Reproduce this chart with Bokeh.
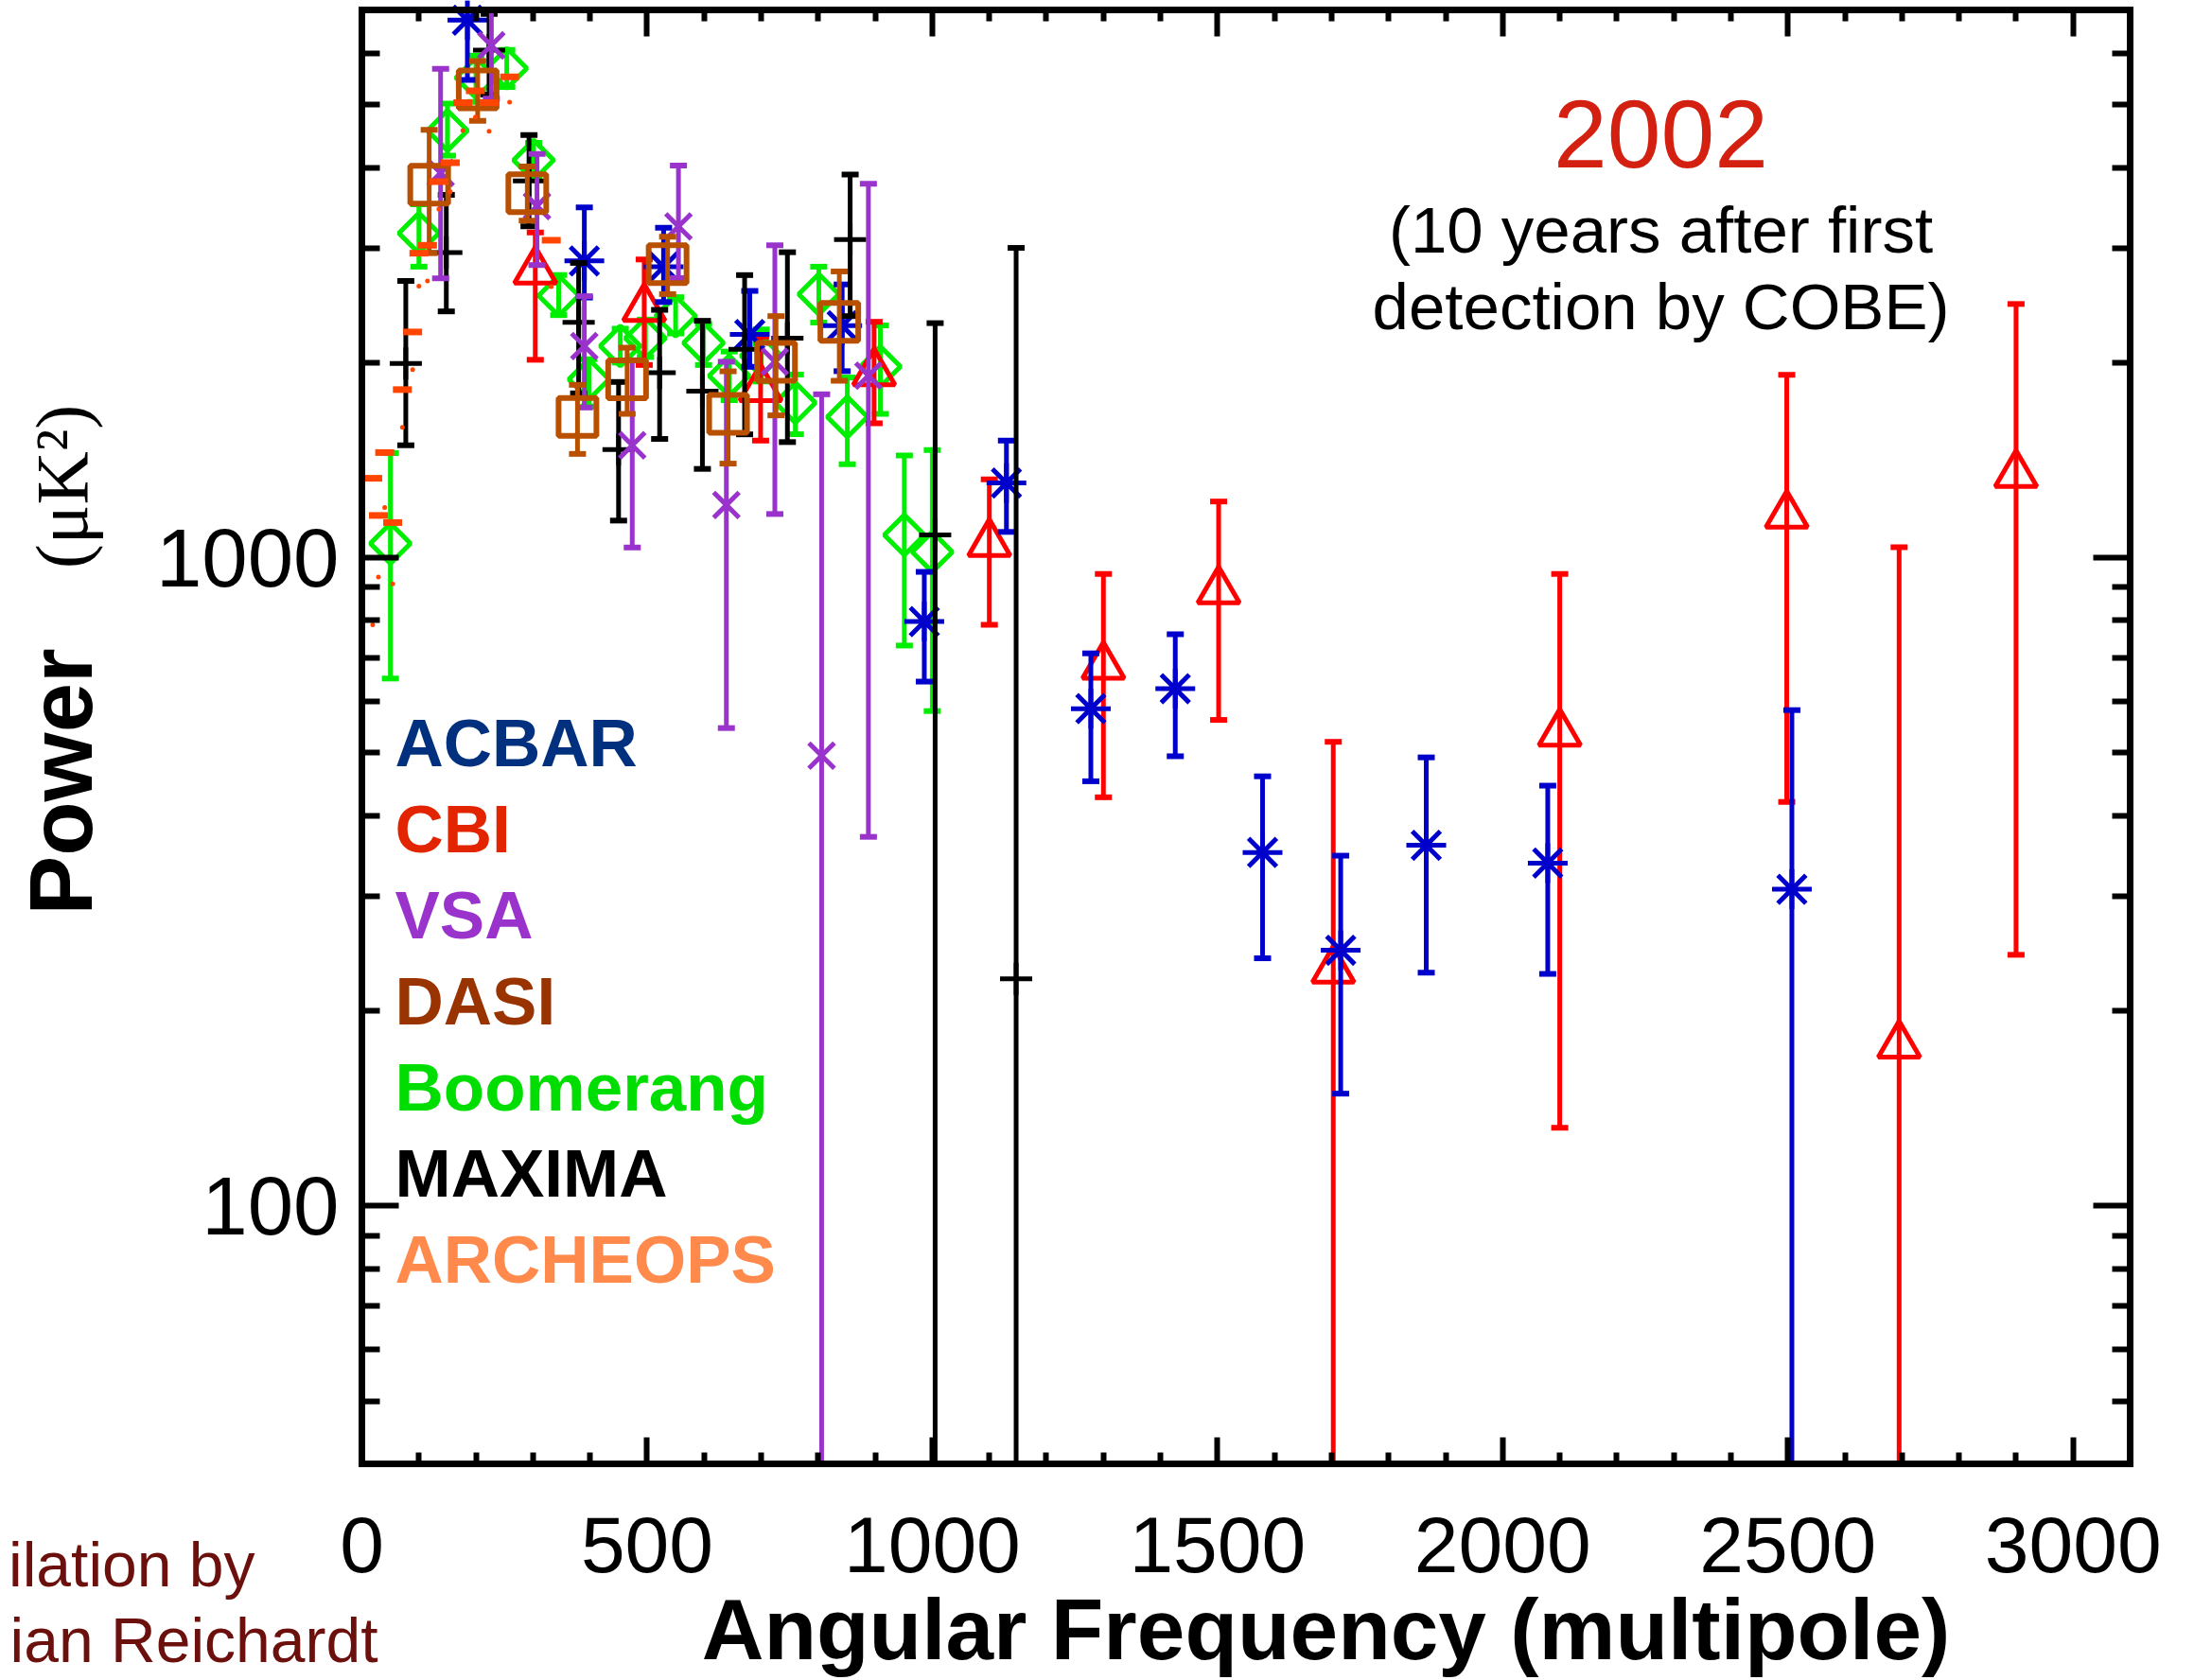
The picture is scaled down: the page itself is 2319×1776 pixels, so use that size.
import numpy as np
from bokeh.plotting import figure
from bokeh.models import Range1d, LinearAxis, LogAxis, FixedTicker, Label, CustomJSTickFormatter
from bokeh.embed import file_html
from bokeh.resources import INLINE

# ---------------------------------------------------------------------------
# CMB angular power spectrum measurements, 2002 compilation
# multipole ell, band power (uK^2), upper / lower error bar ends
# ---------------------------------------------------------------------------
acbar_ell = [185, 390, 529, 680, 842, 986, 1130, 1278, 1426, 1579, 1716, 1866, 2079, 2507]
acbar_pow = [6750, 2870, 2810, 2210, 2280, 797, 1304, 585, 628, 351, 248, 360, 338, 308]
acbar_hi = [7500, 3470, 3230, 2580, 2640, 951, 1516, 712, 762, 460, 347, 492, 445, 582]
acbar_lo = [5460, 2520, 2480, 1970, 1940, 644, 1096, 452, 494, 241, 149, 229, 228, 20]

cbi_ell = [304, 495, 699, 898, 1100, 1300, 1502, 1703, 1900, 2100, 2297, 2498, 2695, 2900]
cbi_pow = [2768, 2425, 1823, 1929, 1052, 680, 889, 231, 20, 536, 20, 1163, 177, 1344]
cbi_hi = [3174, 2885, 2193, 2312, 1321, 944, 1221, 520, 35, 944, 35, 1915, 1038, 2463]
cbi_lo = [2020, 1983, 1516, 1612, 788, 427, 562, 20, 5, 132, 5, 420, 20, 244]

vsa_ell = [138, 227, 307, 390, 474, 555, 639, 724, 806, 888]
vsa_pow = [3923, 6172, 3488, 2121, 1491, 3244, 1206, 2006, 495, 1909]
vsa_hi = [5677, 7200, 4197, 2532, 2017, 4027, 2006, 3034, 1787, 3775]
vsa_lo = [2698, 5110, 2828, 1705, 1037, 2700, 546, 1168, 20, 371]

dasi_ell = [118, 203, 290, 378, 465, 536, 642, 726, 837]
dasi_pow = [3762, 5280, 3650, 1649, 1885, 2837, 1667, 2006, 2312]
dasi_hi = [4574, 5839, 4013, 1848, 2109, 3128, 1939, 2359, 2765]
dasi_lo = [2950, 4719, 3311, 1446, 1667, 2551, 1397, 1658, 1875]

boom_ell = [50, 100, 150, 200, 254, 301, 345, 398, 453, 497, 550, 599, 644, 700,
            760, 801, 851, 909, 951, 1000]
boom_pow = [1052, 3168, 4562, 5500, 5690, 4105, 2537, 1885, 2121, 2181, 2359, 2145, 1909, 2050,
            1734, 2551, 1649, 1972, 1084, 1021]
boom_hi = [1450, 3508, 5021, 5950, 6073, 4365, 2730, 2024, 2256, 2330, 2523, 2294, 2080, 2250,
           1917, 2812, 1897, 2282, 1438, 1466]
boom_lo = [651, 2812, 4173, 5050, 5325, 3850, 2367, 1711, 2000, 2040, 2218, 1983, 1750, 1870,
           1551, 2306, 1394, 1667, 732, 580]

maxima_ell = [77, 148, 223, 293, 380, 450, 522, 597, 671, 746, 856, 1005, 1147]
maxima_pow = [1994, 2957, 6070, 3815, 2307, 1469, 1929, 1807, 2097, 2181, 3096, 1084, 224]
maxima_hi = [2673, 3630, 6900, 4487, 2850, 1867, 2412, 2320, 2729, 2960, 3902, 2301, 3006]
maxima_lo = [1491, 2399, 5180, 3245, 1793, 1141, 1525, 1371, 1550, 1508, 2359, 20, 20]

archeops_ell = [19, 29, 40, 54, 71, 89, 100, 115, 135, 155, 177, 199, 223, 259, 332]
archeops_pow = [1326, 1162, 1453, 1133, 1817, 2230, 2950, 3034, 3804, 4068, 5038, 5250, 5038,
                5521, 3089]
archeops_low = [788, 934, 1195, 911, 1589, 1951, 2623, 2674, 3450, 3669, 4562, 4786, 4549,
                5043, 2620]

x_ticks = [0, 500, 1000, 1500, 2000, 2500, 3000]
y_ticks = [100, 1000]

X_MIN, X_MAX = 0, 3100
Y_MIN, Y_MAX = 40, 7000

legend_names = ["ACBAR", "CBI", "VSA", "DASI", "Boomerang", "MAXIMA", "ARCHEOPS"]
legend_colors = ["#00307E", "#E32400", "#9933CC", "#993300", "#00DD00", "#000000", "#FF8A4C"]

SANS = "Liberation Sans"
W, H = 2319, 1776
# pixel box of the axes inside the canvas (left, right, top, bottom)
BOX_L, BOX_R, BOX_T, BOX_B = 382, 2251, 10, 1547

# the drawing frame fills the whole canvas; the axes are pinned to the box edges
ux = (X_MAX - X_MIN) / (BOX_R - BOX_L)
dec = (np.log10(Y_MAX) - np.log10(Y_MIN)) / (BOX_B - BOX_T)
x_range = Range1d(X_MIN - BOX_L * ux, X_MAX + (W - BOX_R) * ux)
y_range = Range1d(10 ** (np.log10(Y_MIN) - (H - BOX_B) * dec), 10 ** (np.log10(Y_MAX) + BOX_T * dec))

p = figure(width=W, height=H, y_axis_type="log", x_range=x_range, y_range=y_range,
           output_backend="svg", toolbar_location=None,
           min_border_left=0, min_border_right=0, min_border_top=0, min_border_bottom=0)
p.title.visible = False
p.grid.visible = False
p.outline_line_color = None
p.background_fill_color = "white"
p.border_fill_color = "white"

minor_x = [v for v in range(100, 3100, 100) if v % 500]
minor_y = [k * 10 ** d for d in (1, 2, 3) for k in range(2, 10) if Y_MIN < k * 10 ** d < Y_MAX]

blank = CustomJSTickFormatter(code="return ''")


def style_axis(ax, tick_in, minor_in, label_size=None):
    ax.axis_line_width = 7
    ax.axis_line_color = "black"
    ax.axis_line_cap = "square"
    ax.major_tick_in = tick_in
    ax.major_tick_out = 0
    ax.minor_tick_in = minor_in
    ax.minor_tick_out = 0
    ax.major_tick_line_width = 6
    ax.minor_tick_line_width = 6
    ax.major_tick_line_color = "black"
    ax.minor_tick_line_color = "black"
    if label_size:
        ax.major_label_text_font = SANS
        ax.major_label_text_font_size = label_size
        ax.major_label_text_color = "black"
    else:
        ax.formatter = blank
        ax.major_label_standoff = 0


xt = FixedTicker(ticks=x_ticks, minor_ticks=minor_x)
yt = FixedTicker(ticks=y_ticks, minor_ticks=minor_y)

bx = p.xaxis[0]
bx.ticker = xt
bx.fixed_location = Y_MIN
bx.bounds = (X_MIN, X_MAX)
style_axis(bx, 28, 12, "84px")
bx.major_label_standoff = 56

ly = p.yaxis[0]
ly.ticker = yt
ly.fixed_location = X_MIN
ly.bounds = (Y_MIN, Y_MAX)
style_axis(ly, 39, 19, "87px")
ly.major_label_overrides = {t: str(t) for t in y_ticks}
ly.major_label_standoff = 24

top_ax = LinearAxis(ticker=xt, fixed_location=Y_MAX, bounds=(X_MIN, X_MAX))
style_axis(top_ax, 28, 12)
p.add_layout(top_ax, "above")
right_ax = LogAxis(ticker=yt, fixed_location=X_MAX, bounds=(Y_MIN, Y_MAX))
style_axis(right_ax, 39, 19)
p.add_layout(right_ax, "right")


def errorbars(ell, lo, hi, color, lw=5, cap=18):
    ell = np.asarray(ell, float)
    lo_c = np.clip(np.asarray(lo, float), Y_MIN, Y_MAX)
    hi_c = np.clip(np.asarray(hi, float), Y_MIN, Y_MAX)
    p.segment(x0=ell, y0=lo_c, x1=ell, y1=hi_c, line_color=color, line_width=lw)
    p.scatter(x=np.concatenate([ell, ell]), y=np.concatenate([lo_c, hi_c]), marker="dash",
              size=cap, line_color=color, line_width=lw + 1)


def points(ell, pw, **kw):
    ell = np.asarray(ell, float)
    pw = np.asarray(pw, float)
    keep = (pw >= Y_MIN) & (pw <= Y_MAX)
    p.scatter(ell[keep], pw[keep], **kw)


# Boomerang
errorbars(boom_ell, boom_lo, boom_hi, "#00EE00")
points(boom_ell, boom_pow, marker="square", angle=np.pi / 4, size=30,
       fill_color=None, line_color="#00EE00", line_width=5)
# CBI
errorbars(cbi_ell, cbi_lo, cbi_hi, "#FF0000")
points(cbi_ell, cbi_pow, marker="triangle", size=44,
       fill_color=None, line_color="#FF0000", line_width=5)
# ACBAR
errorbars(acbar_ell, acbar_lo, acbar_hi, "#0000CC")
points(acbar_ell, acbar_pow, marker="asterisk", size=42,
       line_color="#0000CC", line_width=5)
# MAXIMA
errorbars(maxima_ell, maxima_lo, maxima_hi, "#000000")
points(maxima_ell, maxima_pow, marker="cross", size=34,
       line_color="#000000", line_width=5)
# VSA
errorbars(vsa_ell, vsa_lo, vsa_hi, "#9933CC")
points(vsa_ell, vsa_pow, marker="x", size=38,
       line_color="#9933CC", line_width=5)
# DASI
errorbars(dasi_ell, dasi_lo, dasi_hi, "#B85000")
points(dasi_ell, dasi_pow, marker="square", size=40,
       fill_color=None, line_color="#B85000", line_width=6)
# ARCHEOPS
points(archeops_ell, archeops_pow, marker="dash", size=20,
       line_color="#FF4500", line_width=7)
points(archeops_ell, archeops_low, marker="circle", size=5,
       line_color=None, fill_color="#FF4500")


def text(px, base, s, size, color="black", bold=False, align="left", font=SANS, rotated=False):
    """Place a text by its pixel anchor: px across, base = baseline (from the top)."""
    lift = 0.35 * size
    if rotated:
        sx, sy = px - lift, H - base
        ang = np.pi / 2
    else:
        sx, sy = px, H - (base - lift)
        ang = 0
    p.add_layout(Label(x=sx, y=sy, x_units="screen", y_units="screen", text=s,
                       text_color=color, text_font=font, text_font_size=f"{size}px",
                       text_font_style="bold" if bold else "normal", angle=ang,
                       text_align=align, text_baseline="alphabetic"))


# experiment names
for i, (name, col) in enumerate(zip(legend_names, legend_colors)):
    text(417, 810 + 91 * i, name, 71, col, bold=True)

# year caption
text(1755, 177, "2002", 102, "#D42010", align="center")
text(1755, 267, "(10 years after first", 69, align="center")
text(1755, 348, "detection by COBE)", 69, align="center")

# axis titles
text(1401, 1754, "Angular Frequency (multipole)", 91, bold=True, align="center")
text(97, 826, "Power", 94, bold=True, align="center", rotated=True)
text(92, 514, "(\u03bcK\u00b2)", 78, align="center", font="Liberation Serif", rotated=True)

# credit line at the lower left corner
text(269, 1677, "ilation by", 66, "#6B100C", align="right")
text(399, 1757, "ian Reichardt", 66, "#6B100C", align="right")

open("out.html", "w").write(file_html(p, INLINE))
